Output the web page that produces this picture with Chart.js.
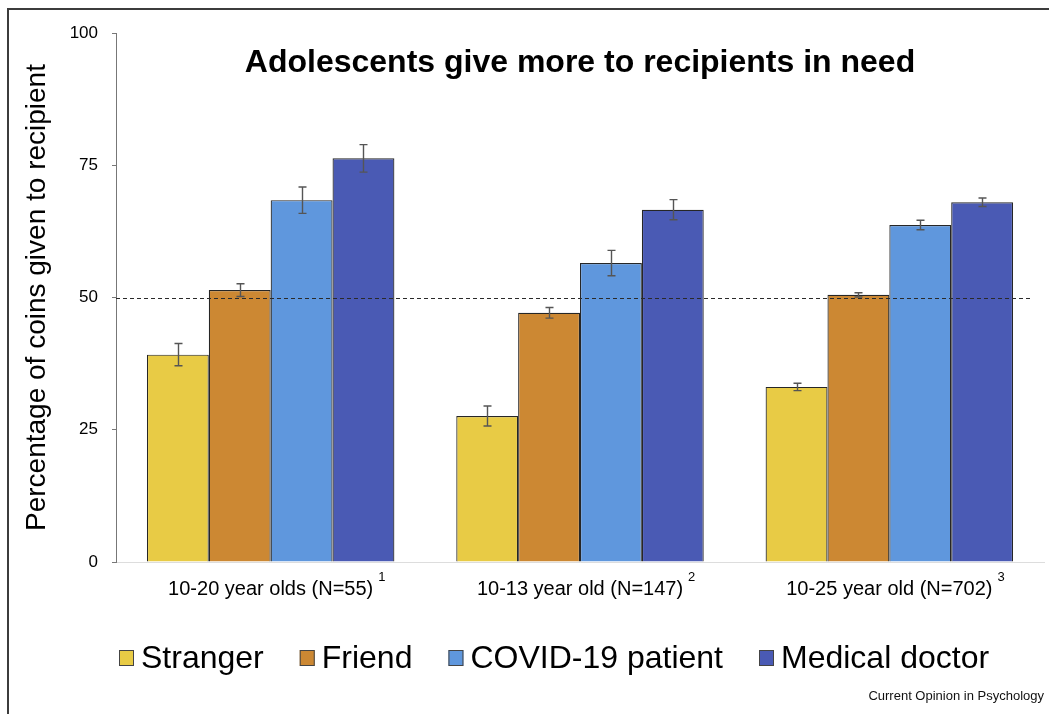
<!DOCTYPE html>
<html>
<head>
<meta charset="utf-8">
<style>
  html, body { margin: 0; padding: 0; background: #ffffff; }
  #wrap { width: 1049px; height: 714px; position: relative; }
</style>
<script src="https://cdn.jsdelivr.net/npm/chart.js@4.4.1/dist/chart.umd.min.js"></script>
</head>
<body>
<div id="wrap"><canvas id="chart" width="1049" height="714"></canvas></div>
<script>
// Age-group samples shown along the x axis, with their source note numbers
const groups = ['10-20 year olds (N=55)', '10-13 year old (N=147)', '10-25 year old (N=702)'];
const groupNotes = ['1', '2', '3'];

// Recipient types
const recipients = ['Stranger', 'Friend', 'COVID-19 patient', 'Medical doctor'];

// Mean percentage of coins given, per recipient, across the three samples
const stranger = [39.2, 27.6, 33.1];
const friend = [51.4, 47.1, 50.5];
const covidPatient = [68.4, 56.5, 63.7];
const medicalDoctor = [76.3, 66.6, 68.0];

// Standard errors for each bar
const strangerErr = [2.1, 1.9, 0.7];
const friendErr = [1.2, 1.0, 0.4];
const covidPatientErr = [2.5, 2.4, 0.9];
const medicalDoctorErr = [2.6, 1.9, 0.8];

// Y axis ticks and chance-level reference
const yTicks = [0, 25, 50, 75, 100];
const chanceLevel = 50;

const titleText = 'Adolescents give more to recipients in need';
const yTitle = 'Percentage of coins given to recipient';
const sourceText = 'Current Opinion in Psychology';

const colors = ['#E8CB45', '#CC8833', '#5F97DD', '#4A5AB4'];
const seriesValues = [stranger, friend, covidPatient, medicalDoctor];
const seriesErrors = [strangerErr, friendErr, covidPatientErr, medicalDoctorErr];

const FONT = '"Liberation Sans", Arial, Helvetica, sans-serif';

// Outer frame: top and left rules
const framePlugin = {
  id: 'frame',
  beforeDraw(chart) {
    const ctx = chart.ctx;
    ctx.save();
    ctx.fillStyle = '#ffffff';
    ctx.fillRect(0, 0, chart.width, chart.height);
    ctx.strokeStyle = '#3c3c3c';
    ctx.lineWidth = 2;
    ctx.beginPath();
    ctx.moveTo(8, chart.height);
    ctx.lineTo(8, 9);
    ctx.lineTo(chart.width, 9);
    ctx.stroke();
    ctx.restore();
  }
};

// Dashed chance line and error bars drawn over the bars
const overlayPlugin = {
  id: 'overlay',
  afterDatasetsDraw(chart) {
    const ctx = chart.ctx;
    const y = chart.scales.y;
    const area = chart.chartArea;
    ctx.save();
    // chance line
    const yc = Math.round(y.getPixelForValue(chanceLevel)) + 0.5;
    ctx.strokeStyle = '#2a2a2a';
    ctx.lineWidth = 1.2;
    ctx.setLineDash([4, 3]);
    ctx.beginPath();
    ctx.moveTo(area.left, yc);
    ctx.lineTo(area.right - 13, yc);
    ctx.stroke();
    ctx.setLineDash([]);
    // error bars
    ctx.strokeStyle = '#555555';
    ctx.lineWidth = 1.4;
    chart.data.datasets.forEach((ds, di) => {
      const meta = chart.getDatasetMeta(di);
      meta.data.forEach((bar, i) => {
        const v = ds.data[i];
        const e = ds.errors[i];
        const x = Math.round(bar.x) + 0.5;
        const yTop = y.getPixelForValue(v + e);
        const yBot = y.getPixelForValue(v - e);
        const cap = 4;
        ctx.beginPath();
        ctx.moveTo(x, yTop);
        ctx.lineTo(x, yBot);
        ctx.moveTo(x - cap, yTop);
        ctx.lineTo(x + cap, yTop);
        ctx.moveTo(x - cap, yBot);
        ctx.lineTo(x + cap, yBot);
        ctx.stroke();
      });
    });
    ctx.restore();
  }
};

// Title, superscript notes, legend and source line
const textPlugin = {
  id: 'texts',
  afterDraw(chart) {
    const ctx = chart.ctx;
    const area = chart.chartArea;
    const x = chart.scales.x;
    ctx.save();
    ctx.fillStyle = '#000000';

    // title inside the plot
    ctx.font = 'bold 32px ' + FONT;
    ctx.textAlign = 'center';
    ctx.textBaseline = 'middle';
    ctx.fillText(titleText, (area.left + area.right) / 2, 63);

    // superscript note numbers after each category label
    ctx.font = '20px ' + FONT;
    const labelWidths = groups.map(g => ctx.measureText(g).width);
    ctx.font = '13px ' + FONT;
    ctx.textAlign = 'left';
    groups.forEach((g, i) => {
      const cx = x.getPixelForValue(i);
      ctx.fillText(groupNotes[i], cx + labelWidths[i] / 2 + 5, 577);
    });

    // legend
    const ly = 658;
    let lx = area.left + 3;
    chart.data.datasets.forEach((ds) => {
      ctx.fillStyle = ds.backgroundColor;
      ctx.fillRect(lx, ly - 8, 15, 16);
      ctx.strokeStyle = '#444444';
      ctx.lineWidth = 1;
      ctx.strokeRect(lx + 0.5, ly - 7.5, 14, 15);
      ctx.fillStyle = '#000000';
      ctx.font = '32px ' + FONT;
      ctx.textAlign = 'left';
      ctx.textBaseline = 'middle';
      ctx.fillText(ds.label, lx + 22, ly + 1);
      lx += 22 + ctx.measureText(ds.label).width + 36;
    });

    // source line
    ctx.font = '13px ' + FONT;
    ctx.textAlign = 'right';
    ctx.textBaseline = 'alphabetic';
    ctx.fillStyle = '#111111';
    ctx.fillText(sourceText, area.right, 700);
    ctx.restore();
  }
};

new Chart(document.getElementById('chart'), {
  type: 'bar',
  data: {
    labels: groups,
    datasets: recipients.map((name, i) => ({
      label: name,
      data: seriesValues[i],
      errors: seriesErrors[i],
      backgroundColor: colors[i],
      borderColor: '#262626',
      borderWidth: 1.2,
      borderSkipped: 'bottom',
      categoryPercentage: 0.8,
      barPercentage: 1.0
    }))
  },
  options: {
    responsive: false,
    animation: false,
    devicePixelRatio: 1,
    layout: { padding: { top: 33, right: 5, left: 0, bottom: 0 } },
    plugins: {
      legend: { display: false },
      title: { display: false },
      tooltip: { enabled: false }
    },
    scales: {
      x: {
        afterFit(scale) { scale.height = 152; },
        grid: { display: false },
        border: { display: true, color: '#dddddd', width: 1 },
        ticks: {
          color: '#000000',
          font: { family: FONT, size: 20 },
          padding: 7,
          maxRotation: 0
        }
      },
      y: {
        min: 0,
        max: 100,
        afterFit(scale) { scale.width = 116; },
        afterBuildTicks(scale) { scale.ticks = yTicks.map(v => ({ value: v })); },
        grid: {
          drawOnChartArea: false,
          drawTicks: true,
          tickLength: 4,
          color: '#777777'
        },
        border: { display: true, color: '#777777', width: 1 },
        ticks: {
          color: '#000000',
          font: { family: FONT, size: 17 },
          padding: 14
        },
        title: {
          display: true,
          text: yTitle,
          color: '#000000',
          font: { family: FONT, size: 28 },
          padding: { top: 20, bottom: 0 }
        }
      }
    }
  },
  plugins: [framePlugin, overlayPlugin, textPlugin]
});
</script>
</body>
</html>
